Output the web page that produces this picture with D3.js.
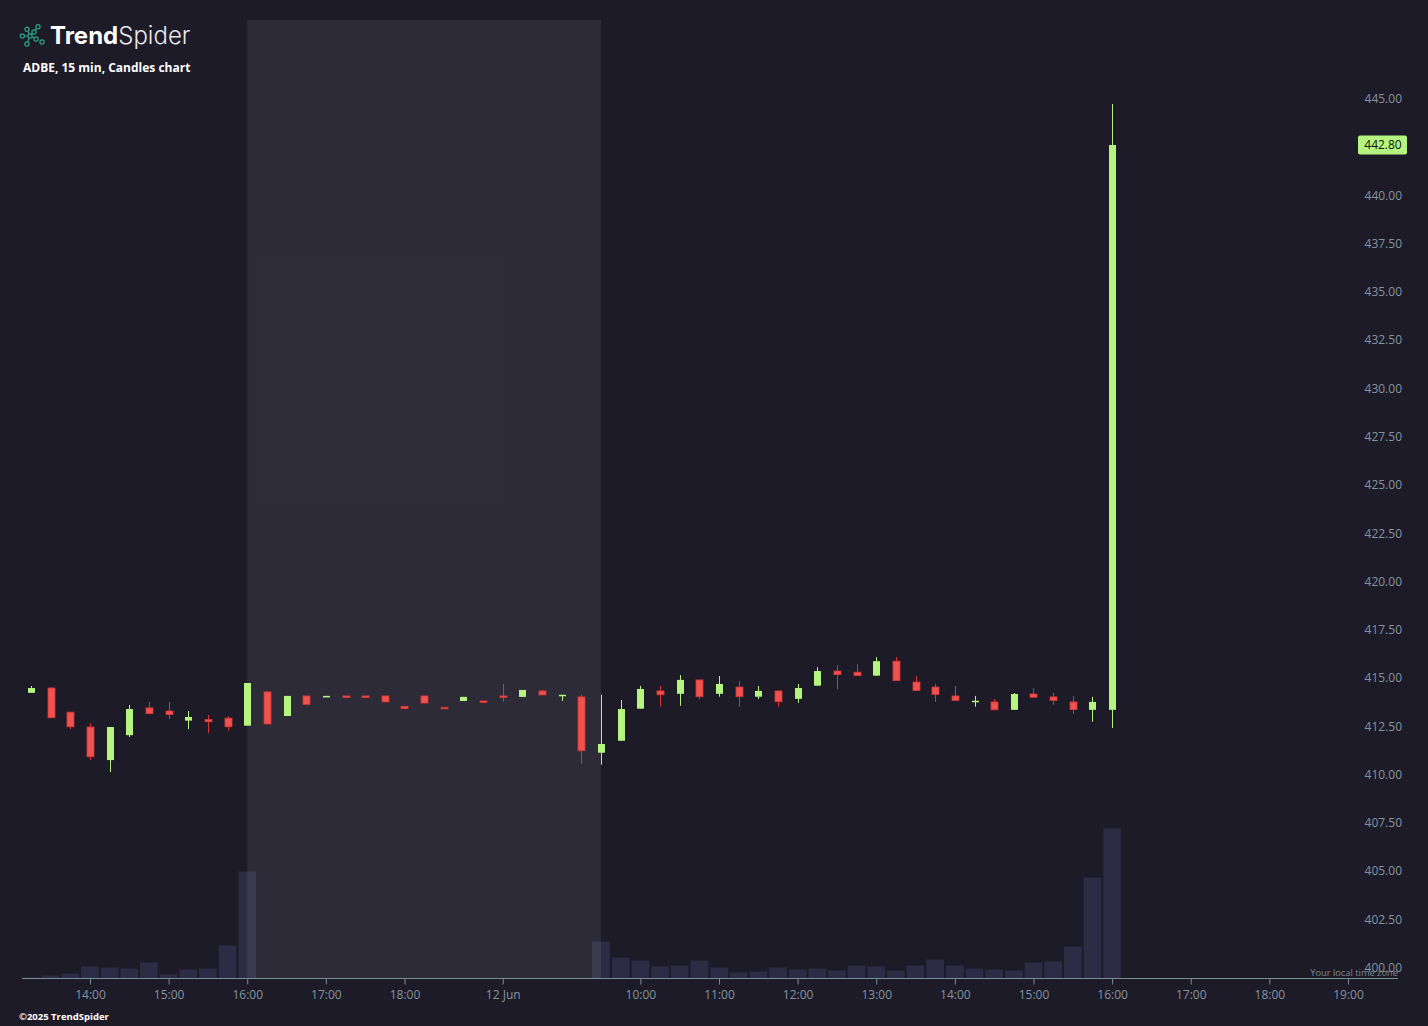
<!DOCTYPE html>
<html><head><meta charset="utf-8">
<script src="https://cdn.jsdelivr.net/npm/d3@7"></script>
<style>
html,body{margin:0;padding:0;background:#1c1b27;}
svg{display:block;}
</style></head>
<body>
<svg id="chart" width="1428" height="1026"></svg>
<script>
// ---- DATA ----
// bar index 0 = 11 Jun 13:15, one bar per 15 minutes (index scale)
const opens  = [414.43,414.68,413.43,412.66,410.95,412.24,413.65,413.49,412.99,413.05,413.12,412.73,
                414.48,413.23,414.27,414.23,414.27,414.27,414.27,413.73,414.27,413.68,414.01,414.01,414.27,414.22,414.53,414.29,414.22,
                411.33,411.95,413.61,414.53,414.38,415.10,414.38,414.73,414.23,414.53,414.12,414.80,415.56,415.50,415.32,416.07,414.99,
                414.73,414.27,413.98,413.96,413.55,414.37,414.22,413.96,413.55,413.55];
const highs  = [414.78,414.73,413.43,412.86,412.66,413.80,413.96,413.96,413.49,413.28,413.22,414.94,
                414.48,414.27,414.27,414.28,414.27,414.27,414.27,413.73,414.27,413.68,414.22,414.01,414.89,414.58,414.58,414.33,414.33,
                414.33,414.06,414.79,414.79,415.35,415.10,415.30,415.05,414.79,414.53,414.89,415.76,415.86,415.91,416.28,416.28,415.30,
                414.89,414.79,414.27,414.11,414.42,414.68,414.43,414.27,414.22,444.92];
const lows   = [414.43,413.12,412.55,410.95,410.33,412.14,413.35,413.07,412.55,412.35,412.47,412.73,
                412.82,413.23,413.83,414.23,414.22,414.22,413.96,413.61,413.90,413.64,414.01,413.97,413.96,414.22,414.32,414.01,410.76,
                410.71,411.95,413.61,413.71,413.76,414.09,414.23,413.71,414.11,413.71,413.91,414.80,414.61,415.32,415.32,415.06,414.55,
                413.96,414.03,413.71,413.55,413.55,414.20,413.82,413.35,412.93,412.61];
const closes = [414.68,413.14,412.67,411.12,412.66,413.59,413.35,413.30,413.18,412.93,412.67,414.94,
                412.82,414.27,413.83,414.27,414.22,414.22,413.96,413.61,413.90,413.64,414.22,413.97,414.23,414.58,414.32,414.33,411.43,
                411.78,413.59,414.63,414.33,415.10,414.23,414.89,414.23,414.53,413.97,414.68,415.56,415.37,415.32,416.07,415.06,414.55,
                414.34,414.03,414.02,413.55,414.37,414.20,414.03,413.56,413.96,442.80];
const volumes = [10,30,50,120,110,100,160,40,90,100,330,1070,
                 3,2,2,1,1,1,2,1,2,1,1,2,1,2,2,4,6,
                 370,210,180,120,130,180,110,60,70,110,90,100,80,130,120,80,130,
                 190,130,100,90,80,160,170,320,1010,1500];
const xTickIdx    = [3,7,11,15,19,24,31,35,39,43,47,51,55,59,63,67];
const xTickLabels = ["14:00","15:00","16:00","17:00","18:00","12 Jun","10:00","11:00","12:00","13:00","14:00","15:00","16:00","17:00","18:00","19:00"];
const priceTicks  = d3.range(400, 445.01, 2.5);
const extStartIdx = 11, extEndIdx = 29;   // shaded extended-hours session
const lastPrice = 442.80;

// ---- LAYOUT ----
const svg = d3.select("#chart");
const W = 1428, H = 1026;
const x = d3.scaleLinear().domain([0, 67]).range([31, 1348]);
const y = d3.scaleLinear().domain([400, 445]).range([971.5, 102.5]);
const baseY = 978.5;
const yv = d3.scaleLinear().domain([0, 1500]).range([baseY, 828.5]);
const slot = x(1) - x(0);
const bodyW = 7, volW = slot - 2;

const GREEN = "#b5f57f", RED = "#ef5350", REDW = "#d93434";
const AXIS = "#8494a1", AXISLINE = "#7b8c99";

svg.append("rect").attr("width", W).attr("height", H).attr("fill", "#1c1b27");

const data = opens.map((o, i) => ({i, o, h: highs[i], l: lows[i], c: closes[i], v: volumes[i]}));

// volume bars
svg.append("g").selectAll("rect").data(data).join("rect")
  .attr("x", d => x(d.i) - volW / 2)
  .attr("width", volW)
  .attr("y", d => yv(d.v))
  .attr("height", d => baseY - yv(d.v))
  .attr("fill", "#2c2d44");

// extended hours shading
svg.append("rect")
  .attr("x", x(extStartIdx)).attr("width", x(extEndIdx) - x(extStartIdx))
  .attr("y", 20).attr("height", baseY - 20)
  .attr("fill", "#ffffff").attr("fill-opacity", 0.075);

// candles
const cg = svg.append("g").selectAll("g").data(data).join("g");
cg.append("line")
  .attr("x1", d => Math.round(x(d.i)) + 0.5).attr("x2", d => Math.round(x(d.i)) + 0.5)
  .attr("y1", d => y(d.h)).attr("y2", d => y(d.l))
  .attr("stroke", d => d.c >= d.o ? GREEN : REDW).attr("stroke-width", 1);
cg.append("rect")
  .attr("x", d => Math.round(x(d.i)) + 0.5 - bodyW / 2)
  .attr("width", bodyW)
  .attr("y", d => y(Math.max(d.o, d.c)))
  .attr("height", d => Math.max(1.5, Math.abs(y(d.o) - y(d.c))))
  .attr("fill", d => d.c >= d.o ? GREEN : RED)
  .attr("stroke", d => d.c >= d.o ? "none" : REDW)
  .attr("stroke-width", 0.8);

// x axis
svg.append("line").attr("x1", 22).attr("x2", 1398).attr("y1", baseY).attr("y2", baseY)
  .attr("stroke", AXISLINE).attr("stroke-width", 1);
const xAxis = d3.axisBottom(x).tickValues(xTickIdx)
  .tickFormat((d, i) => xTickLabels[i]).tickSize(6).tickPadding(6);
const gx = svg.append("g").attr("transform", `translate(0,${baseY})`).call(xAxis);
gx.select(".domain").remove();
gx.selectAll(".tick line").attr("stroke", AXISLINE);
gx.selectAll(".tick text").attr("fill", AXIS).attr("font-family", "'Open Sans', sans-serif").attr("font-size", 12);

// y axis (right)
const yAxis = d3.axisRight(y).tickValues(priceTicks).tickFormat(d3.format(".2f")).tickSize(0).tickPadding(0);
const gy = svg.append("g").attr("transform", "translate(1402,0)").call(yAxis);
gy.select(".domain").remove();
gy.selectAll(".tick text").attr("fill", AXIS).attr("font-family", "'Open Sans', sans-serif")
  .attr("font-size", 12).attr("text-anchor", "end").attr("x", 0).attr("dy", "0");

// last price label
const lp = svg.append("g").attr("transform", `translate(1383,${y(lastPrice)})`);
lp.append("rect").attr("x", -25).attr("y", -9.5).attr("width", 49).attr("height", 19).attr("rx", 2).attr("fill", GREEN);
lp.append("text").attr("text-anchor", "middle").attr("dy", "0.35em").attr("fill", "#111")
  .attr("font-family", "'Open Sans', sans-serif").attr("font-size", 12).text(lastPrice.toFixed(2));

// time zone note (overlaps the 400.00 label, as in the original)
svg.append("text").attr("x", 1398).attr("y", 976).attr("text-anchor", "end").attr("fill", "#7b8894")
  .attr("font-family", "'Open Sans', sans-serif").attr("font-size", 9.3).text("Your local time zone");

// logo
const logo = svg.append("g").attr("transform", "translate(20,25)");
const pts = [[7,4.3],[18,1.7],[14,7],[2.3,11],[10,11],[16,14],[22,17],[7,19]];
const links = [[0,4],[4,7],[3,4],[4,5],[4,2],[2,1]];
logo.selectAll("line").data(links).join("line")
  .attr("x1", d => pts[d[0]][0]).attr("y1", d => pts[d[0]][1])
  .attr("x2", d => pts[d[1]][0]).attr("y2", d => pts[d[1]][1])
  .attr("stroke", "#2aa38b").attr("stroke-width", 1.1);
logo.selectAll("circle").data(pts).join("circle")
  .attr("cx", d => d[0]).attr("cy", d => d[1]).attr("r", 2.1)
  .attr("fill", "#1c1b27").attr("stroke", "#2aa38b").attr("stroke-width", 1.2);
const lt = svg.append("text").attr("x", 50).attr("y", 44).attr("font-family", "Inter, Lato, sans-serif")
  .attr("font-size", 24).attr("fill", "#ffffff");
lt.append("tspan").attr("font-weight", 700).text("Trend");
lt.append("tspan").attr("font-weight", 300).attr("fill", "#e8e8ec").text("Spider");

svg.append("text").attr("x", 23).attr("y", 72).attr("fill", "#ffffff").attr("font-weight", 700)
  .attr("font-family", "'Open Sans', sans-serif").attr("font-size", 12).text("ADBE, 15 min, Candles chart");

svg.append("text").attr("x", 19).attr("y", 1020).attr("fill", "#ffffff").attr("font-weight", 700)
  .attr("font-family", "'Open Sans', sans-serif").attr("font-size", 9.5).text("©2025 TrendSpider");
</script>
</body></html>
